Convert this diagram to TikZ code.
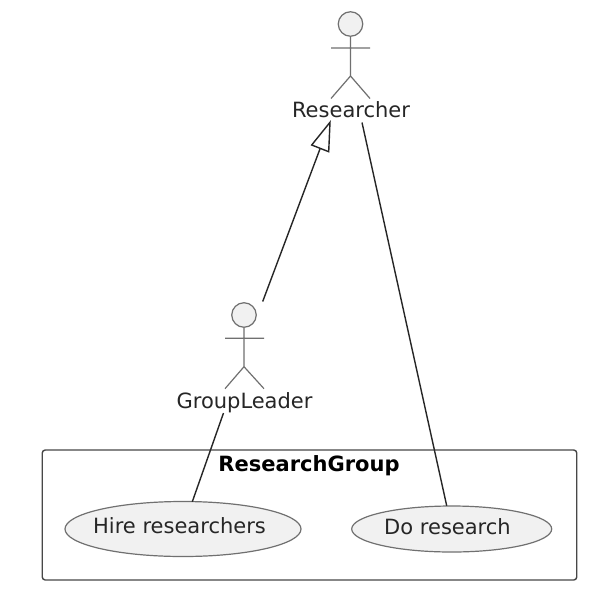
\documentclass[tikz,border=0pt]{standalone}
\usepackage{fontspec}
\setmainfont{DejaVu Sans}
\usetikzlibrary{shapes.geometric,calc}
\definecolor{umlfill}{HTML}{F1F1F1}
\definecolor{umlline}{HTML}{707070}
\definecolor{umlink}{HTML}{262626}
\tikzset{
  x=1pt,y=-1pt,
  lbl/.style={inner sep=0pt,text=umlink,font=\fontsize{21}{23}\selectfont,anchor=base},
  headc/.style={circle,draw=umlline,fill=umlfill,line width=1.2pt,minimum size=24.5pt,inner sep=0pt},
  limb/.style={draw=umlline,line width=1.2pt},
  conn/.style={draw=umlink,line width=1.4pt},
  usecase/.style={ellipse,draw=umlline,fill=umlfill,line width=1.2pt,inner sep=0pt},
}
\begin{document}
\begin{tikzpicture}
\useasboundingbox (0,0) rectangle (604,602);
\fill[white] (0,0) rectangle (604,602);
% package
\node[draw=umlink!85,line width=1.4pt,rounded corners=3pt,minimum width=534.5pt,minimum height=130pt,inner sep=0pt] (pkg) at (309.5,515) {};
\node[lbl,font=\fontsize{21}{23}\selectfont\bfseries,text=black] (pkgtitle) at (309,471) {ResearchGroup};
% use cases
\node[usecase,minimum width=236pt,minimum height=55pt] (hire) at (183,529) {};
\node[lbl] (hiretext) at (179.5,533) {Hire researchers};
\node[usecase,minimum width=200pt,minimum height=46pt] (doit) at (451.7,529) {};
\node[lbl] (dotext) at (447.5,534) {Do research};
% Researcher actor
\node[headc] (rhead) at (350.5,24) {};
\coordinate (rcrotch) at (350.5,76);
\coordinate (rarml) at (331,48);
\coordinate (rarmr) at (370,48);
\coordinate (rfootl) at (331,98.5);
\coordinate (rfootr) at (370,98.5);
\draw[limb] (rhead.south) -- (rcrotch) -- (rfootl) (rcrotch) -- (rfootr) (rarml) -- (rarmr);
\node[lbl] (rtext) at (351,117.5) {Researcher};
% GroupLeader actor
\node[headc] (ghead) at (244,315) {};
\coordinate (gcrotch) at (244,366.7);
\coordinate (garml) at (225,338.3);
\coordinate (garmr) at (264,338.3);
\coordinate (gfootl) at (225,388.7);
\coordinate (gfootr) at (264,388.7);
\draw[limb] (ghead.south) -- (gcrotch) -- (gfootl) (gcrotch) -- (gfootr) (garml) -- (garmr);
\node[lbl] (gtext) at (244.5,408) {GroupLeader};
% connectors
\coordinate (tip) at (330,122.3);
\coordinate (basel) at (311.7,145);
\coordinate (baser) at (328.7,151.7);
\coordinate (basem) at (320.2,148.3);
\coordinate (gout) at (262.7,301.5);
\draw[conn] (gout) -- (basem);
\draw[conn,line join=miter] (tip) -- (basel) -- (baser) -- cycle;
\coordinate (rout) at (362,122.5);
\coordinate (doin) at (446.7,505.7);
\draw[conn] (rout) -- (doin);
\coordinate (gbot) at (223.5,413);
\coordinate (hirein) at (192.3,501.7);
\draw[conn] (gbot) -- (hirein);
\end{tikzpicture}
\end{document}
